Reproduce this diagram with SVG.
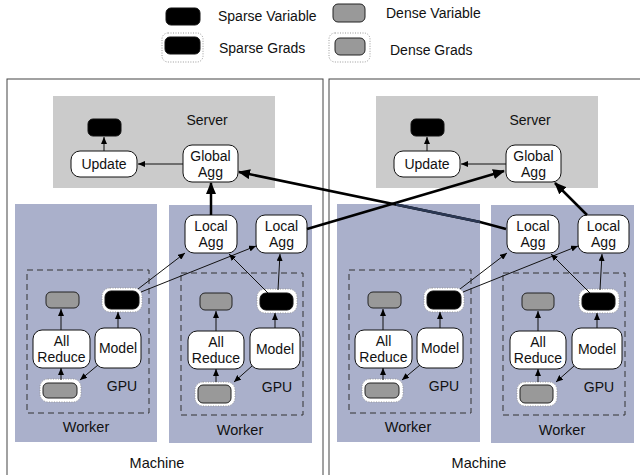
<svg xmlns="http://www.w3.org/2000/svg" width="640" height="475" viewBox="0 0 640 475">
<defs>
<style>
text{font-family:"Liberation Sans",Arial,sans-serif;font-size:14px;fill:#111;text-anchor:middle}
.lg{font-size:14px;text-anchor:start}
.big{font-size:14.5px}
.mach{fill:#fff;stroke:#444;stroke-width:1}
.srv{fill:#cbcbcb}
.wrk{fill:#aab0cb}
.gpu{fill:none;stroke:#333;stroke-width:1;stroke-dasharray:6,4}
.nd{fill:#fff;stroke:#111;stroke-width:1}
.sv{fill:#000;stroke:#111;stroke-width:1}
.dv{fill:#999;stroke:#222;stroke-width:1}
.halo{fill:#fff;stroke:#999;stroke-width:1;stroke-dasharray:1,1.5}
.c{stroke:#111;stroke-width:1;fill:none;marker-end:url(#ah)}
.t{stroke:#000;stroke-width:2.5;fill:none;marker-end:url(#ahb)}
</style>
<marker id="ah" markerWidth="7" markerHeight="6" refX="7" refY="3" orient="auto" markerUnits="userSpaceOnUse"><path d="M0,0 L7,3 L0,6 z" fill="#000"/></marker>
<marker id="ahb" markerWidth="12" markerHeight="10" refX="11" refY="5" orient="auto" markerUnits="userSpaceOnUse"><path d="M0,0 L12,5 L0,10 z" fill="#000"/></marker>
</defs>
<rect width="640" height="475" fill="#fff"/>

<g id="legend">
<rect class="sv" x="166" y="8" width="34" height="17" rx="5"/>
<text class="lg" x="218" y="21">Sparse Variable</text>
<rect class="dv" x="333" y="4" width="32" height="18" rx="5"/>
<text class="lg" x="386" y="18">Dense Variable</text>
<rect class="halo" x="162" y="33" width="41" height="29" rx="6"/>
<rect class="sv" x="165" y="37" width="35" height="17" rx="5"/>
<text class="lg" x="219" y="53">Sparse Grads</text>
<rect class="halo" x="329" y="33" width="41" height="29" rx="6"/>
<rect class="dv" x="335" y="38" width="30" height="17" rx="5"/>
<text class="lg" x="390" y="55">Dense Grads</text>
</g>

<g id="machine1">
<rect class="mach" x="7" y="79" width="316" height="410"/>
<text class="big" x="157" y="468">Machine</text>
<g id="m1-server"><rect class="srv" x="53" y="96" width="222" height="92"/><text x="207" y="125">Server</text></g>
<g id="m1-servervar"><rect class="sv" x="88" y="119" width="33" height="17" rx="5"/></g>
<g id="m1-update"><rect class="nd" x="71" y="151" width="66" height="26" rx="9"/><text x="104" y="169">Update</text></g>
<g id="m1-globalagg"><rect class="nd" x="183" y="145" width="55" height="37" rx="9"/><text x="210.5" y="161">Global</text><text x="210.5" y="177">Agg</text></g>
<g id="m1-workerA">
<rect class="wrk" x="15" y="204" width="142" height="238"/>
<text class="big" x="86" y="432">Worker</text>
<rect class="gpu" x="27" y="270" width="122" height="143"/>
<text x="122" y="391">GPU</text>
</g>
<g id="m1-workerB">
<rect class="wrk" x="169" y="205" width="143" height="238"/>
<text class="big" x="240" y="435">Worker</text>
<rect class="gpu" x="181" y="273" width="122" height="142"/>
<text x="277" y="392">GPU</text>
</g>
<g id="m1-localagg1"><rect class="nd" x="185" y="215" width="52" height="38" rx="9"/><text x="211" y="231">Local</text><text x="211" y="247">Agg</text></g>
<g id="m1-localagg2"><rect class="nd" x="256" y="215" width="51" height="38" rx="9"/><text x="281.5" y="231">Local</text><text x="281.5" y="247">Agg</text></g>
<g id="m1-A-densevar"><rect class="dv" x="46" y="292" width="33" height="16" rx="5"/></g>
<g id="m1-A-sparsegrad"><rect class="halo" x="102" y="288" width="40" height="24" rx="8"/><rect class="sv" x="105" y="291" width="34" height="18" rx="6"/></g>
<g id="m1-A-allreduce"><rect class="nd" x="33" y="330" width="57" height="38" rx="9"/><text x="61.5" y="346">All</text><text x="61.5" y="362">Reduce</text></g>
<g id="m1-A-model"><rect class="nd" x="95" y="328" width="46" height="40" rx="9"/><text x="118" y="353">Model</text></g>
<g id="m1-A-densegrad"><rect class="halo" x="40" y="379" width="41" height="23" rx="8"/><rect class="dv" x="43" y="383" width="34" height="15" rx="5"/></g>
<g id="m1-B-densevar"><rect class="dv" x="200" y="293" width="32" height="17" rx="5"/></g>
<g id="m1-B-sparsegrad"><rect class="halo" x="257" y="289" width="40" height="24" rx="8"/><rect class="sv" x="260" y="293" width="33" height="17" rx="6"/></g>
<g id="m1-B-allreduce"><rect class="nd" x="188" y="331" width="56" height="38" rx="9"/><text x="216" y="347">All</text><text x="216" y="363">Reduce</text></g>
<g id="m1-B-model"><rect class="nd" x="250" y="328" width="50" height="41" rx="9"/><text x="275" y="354">Model</text></g>
<g id="m1-B-densegrad"><rect class="halo" x="195" y="382" width="40" height="24" rx="8"/><rect class="dv" x="198" y="385" width="33" height="18" rx="5"/></g>
</g>

<g id="machine2" transform="translate(322,0)">
<rect class="mach" x="7" y="79" width="330" height="410"/>
<text class="big" x="157" y="468">Machine</text>
<g id="m2-server"><rect class="srv" x="54" y="96" width="222" height="92"/><text x="208" y="125">Server</text></g>
<g id="m2-servervar"><rect class="sv" x="89" y="119" width="33" height="17" rx="5"/></g>
<g id="m2-update"><rect class="nd" x="72" y="151" width="66" height="26" rx="9"/><text x="105" y="169">Update</text></g>
<g id="m2-globalagg"><rect class="nd" x="184" y="145" width="55" height="37" rx="9"/><text x="211.5" y="161">Global</text><text x="211.5" y="177">Agg</text></g>
<g id="m2-workerA">
<rect class="wrk" x="15" y="204" width="143" height="238"/>
<text class="big" x="86" y="432">Worker</text>
<rect class="gpu" x="27" y="270" width="122" height="143"/>
<text x="122" y="391">GPU</text>
</g>
<g id="m2-workerB">
<rect class="wrk" x="169" y="205" width="143" height="238"/>
<text class="big" x="240" y="435">Worker</text>
<rect class="gpu" x="181" y="273" width="122" height="142"/>
<text x="277" y="392">GPU</text>
</g>
<g id="m2-localagg1"><rect class="nd" x="185" y="215" width="52" height="38" rx="9"/><text x="211" y="231">Local</text><text x="211" y="247">Agg</text></g>
<g id="m2-localagg2"><rect class="nd" x="256" y="215" width="51" height="38" rx="9"/><text x="281.5" y="231">Local</text><text x="281.5" y="247">Agg</text></g>
<g id="m2-A-densevar"><rect class="dv" x="46" y="292" width="33" height="16" rx="5"/></g>
<g id="m2-A-sparsegrad"><rect class="halo" x="102" y="288" width="40" height="24" rx="8"/><rect class="sv" x="105" y="291" width="34" height="18" rx="6"/></g>
<g id="m2-A-allreduce"><rect class="nd" x="33" y="330" width="57" height="38" rx="9"/><text x="61.5" y="346">All</text><text x="61.5" y="362">Reduce</text></g>
<g id="m2-A-model"><rect class="nd" x="95" y="328" width="46" height="40" rx="9"/><text x="118" y="353">Model</text></g>
<g id="m2-A-densegrad"><rect class="halo" x="40" y="379" width="41" height="23" rx="8"/><rect class="dv" x="43" y="383" width="34" height="15" rx="5"/></g>
<g id="m2-B-densevar"><rect class="dv" x="200" y="293" width="32" height="17" rx="5"/></g>
<g id="m2-B-sparsegrad"><rect class="halo" x="257" y="289" width="40" height="24" rx="8"/><rect class="sv" x="260" y="293" width="33" height="17" rx="6"/></g>
<g id="m2-B-allreduce"><rect class="nd" x="188" y="331" width="56" height="38" rx="9"/><text x="216" y="347">All</text><text x="216" y="363">Reduce</text></g>
<g id="m2-B-model"><rect class="nd" x="250" y="328" width="50" height="41" rx="9"/><text x="275" y="354">Model</text></g>
<g id="m2-B-densegrad"><rect class="halo" x="195" y="382" width="40" height="24" rx="8"/><rect class="dv" x="198" y="385" width="33" height="18" rx="5"/></g>
</g>

<g id="connectors">
<g id="m1-conn">
<line class="c" x1="183" y1="164" x2="138" y2="164"/>
<line class="c" x1="104" y1="151" x2="104" y2="137"/>
<line class="c" x1="138" y1="289" x2="185" y2="253"/>
<line class="c" x1="141" y1="292" x2="256" y2="246"/>
<line class="c" x1="268" y1="293" x2="229" y2="254"/>
<line class="c" x1="278" y1="290" x2="280" y2="254"/>
<line class="c" x1="61" y1="330" x2="61" y2="309"/>
<line class="c" x1="61" y1="380" x2="61" y2="368"/>
<line class="c" x1="118" y1="328" x2="118" y2="312"/>
<line class="c" x1="98" y1="365" x2="80" y2="380"/>
<line class="c" x1="216" y1="331" x2="216" y2="311"/>
<line class="c" x1="216" y1="382" x2="216" y2="369"/>
<line class="c" x1="275" y1="328" x2="275" y2="313"/>
<line class="c" x1="252" y1="366" x2="234" y2="382"/>
</g>
<g id="m2-conn" transform="translate(322,0)">
<line class="c" x1="184" y1="164" x2="139" y2="164"/>
<line class="c" x1="105" y1="151" x2="105" y2="137"/>
<line class="c" x1="138" y1="289" x2="185" y2="253"/>
<line class="c" x1="141" y1="292" x2="256" y2="246"/>
<line class="c" x1="268" y1="293" x2="229" y2="254"/>
<line class="c" x1="278" y1="290" x2="280" y2="254"/>
<line class="c" x1="61" y1="330" x2="61" y2="309"/>
<line class="c" x1="61" y1="380" x2="61" y2="368"/>
<line class="c" x1="118" y1="328" x2="118" y2="312"/>
<line class="c" x1="98" y1="365" x2="80" y2="380"/>
<line class="c" x1="216" y1="331" x2="216" y2="311"/>
<line class="c" x1="216" y1="382" x2="216" y2="369"/>
<line class="c" x1="275" y1="328" x2="275" y2="313"/>
<line class="c" x1="252" y1="366" x2="234" y2="382"/>
</g>
<line class="t" x1="211" y1="215" x2="211" y2="183"/>
<line class="t" x1="587" y1="215" x2="555" y2="183"/>
<line class="t" x1="307" y1="229" x2="504" y2="171"/>
<polyline class="t" points="506,229 480,222 239,172"/>
<line x1="396" y1="204.5" x2="480" y2="222" stroke="#2a3753" stroke-width="2.5"/>
</g>
</svg>
